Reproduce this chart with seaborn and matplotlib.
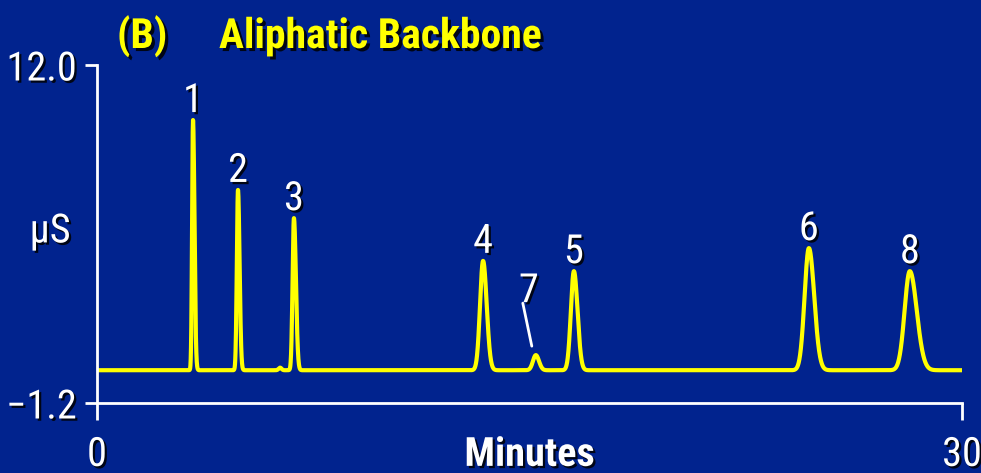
import numpy as np
import pandas as pd
import matplotlib
matplotlib.use("Agg")
import matplotlib.pyplot as plt
import matplotlib.patheffects as pe
import seaborn as sns

# ---- chromatogram peak table -------------------------------------------
peak_labels = ["1", "2", "3", "4", "7", "5", "6", "8"]
retention_min = [3.33, 4.89, 6.83, 13.39, 15.22, 16.54, 24.69, 28.19]
height_us = [9.77, 7.04, 5.94, 4.27, 0.59, 3.87, 4.77, 3.87]   # above baseline
sigma_left_min = [0.032, 0.040, 0.047, 0.105, 0.10, 0.105, 0.150, 0.180]
sigma_right_min = [0.050, 0.055, 0.068, 0.125, 0.11, 0.125, 0.185, 0.240]

# small baseline disturbance ahead of peak 3
minor_t = [6.35]
minor_h = [0.10]
minor_sigma = [0.05]

baseline_us = 0.08
run_minutes = [0.0, 30.0]

x_ticks = [0, 30]
x_tick_labels = ["0", "30"]
y_ticks = [-1.2, 12.0]
y_tick_labels = ["\u22121.2", "12.0"]

# ---- build the detector trace from the peak table -----------------------
t = np.linspace(run_minutes[0], run_minutes[1], 6001)
signal = np.full_like(t, baseline_us)
for rt, h, sl, sr in zip(retention_min, height_us, sigma_left_min, sigma_right_min):
    s = np.where(t < rt, sl, sr)
    signal += h * np.exp(-0.5 * ((t - rt) / s) ** 2)
for rt, h, s in zip(minor_t, minor_h, minor_sigma):
    signal += h * np.exp(-0.5 * ((t - rt) / s) ** 2)
trace = pd.DataFrame({"Minutes": t, "uS": signal})

# ---- styling -------------------------------------------------------------
BG = "#01238e"
YELLOW = "#ffff00"
WHITE = "#ffffff"
FS = 29

sns.set_theme(style="ticks")
plt.rcParams["font.family"] = ["Roboto Condensed", "DejaVu Sans"]

W, H = 981, 473
fig = plt.figure(figsize=(W / 100, H / 100), dpi=100, facecolor=BG)
ax = fig.add_axes([97 / W, (H - 403) / H, 865 / W, 338 / H], facecolor=BG)

sns.lineplot(data=trace, x="Minutes", y="uS", ax=ax, color=YELLOW,
             linewidth=3.0, estimator=None, sort=False)

ax.set_xlim(run_minutes)
ax.set_ylim(y_ticks[0], y_ticks[1])

for side in ("top", "right"):
    ax.spines[side].set_visible(False)
for side in ("left", "bottom"):
    ax.spines[side].set_color(WHITE)
    ax.spines[side].set_linewidth(2.0)

shadow_w = [pe.withSimplePatchShadow(offset=(1.6, -1.6), shadow_rgbFace="black", alpha=0.85)]
shadow_y = [pe.withSimplePatchShadow(offset=(2.2, -2.2), shadow_rgbFace="black", alpha=0.85)]

ax.set_xticks(x_ticks)
ax.set_xticklabels(x_tick_labels)
ax.set_yticks(y_ticks)
ax.set_yticklabels(y_tick_labels)
ax.tick_params(axis="x", colors=WHITE, width=2.0, length=12, pad=11, labelsize=FS)
ax.tick_params(axis="y", colors=WHITE, width=2.0, length=8.6, pad=6, labelsize=FS)
for lab in ax.get_xticklabels() + ax.get_yticklabels():
    lab.set_path_effects(shadow_w)

ax.set_xlabel("Minutes", color=WHITE, fontsize=FS, fontweight="bold")
ax.xaxis.set_label_coords(0.5, -0.186)
ax.xaxis.label.set_va("baseline")
ax.xaxis.label.set_path_effects(shadow_w)

ax.set_ylabel("\u00b5S", color=WHITE, fontsize=FS, rotation=0)
ax.yaxis.set_label_coords(-0.0543, 0.509)
ax.yaxis.label.set_ha("center")
ax.yaxis.label.set_va("center")
ax.yaxis.label.set_path_effects(shadow_w)

# ---- peak numbers ----------------------------------------------------------
for lab, rt, h in zip(peak_labels, retention_min, height_us):
    apex = baseline_us + h
    if lab == "7":
        ax.annotate(lab, xy=(rt, apex), xytext=(-7, 53), textcoords="offset pixels",
                    ha="center", va="baseline", color=WHITE, fontsize=FS,
                    path_effects=shadow_w)
        ax.annotate("", xy=(rt - 0.14, apex + 0.35), xytext=(-9, 43),
                    textcoords="offset pixels",
                    arrowprops=dict(arrowstyle="-", color=WHITE, lw=2.0,
                                    shrinkA=0, shrinkB=0))
    else:
        ax.annotate(lab, xy=(rt, apex), xytext=(0, 8), textcoords="offset pixels",
                    ha="center", va="baseline", color=WHITE, fontsize=FS,
                    path_effects=shadow_w)

# ---- heading ---------------------------------------------------------------
fig.text(117 / W, 1 - 48 / H, "(B)", ha="left", va="baseline", color=YELLOW,
         fontsize=30, fontweight="bold", path_effects=shadow_y)
fig.text(219 / W, 1 - 48 / H, "Aliphatic Backbone", ha="left", va="baseline",
         color=YELLOW, fontsize=30, fontweight="bold", path_effects=shadow_y)

fig.savefig("out.png", dpi=100, facecolor=BG)
